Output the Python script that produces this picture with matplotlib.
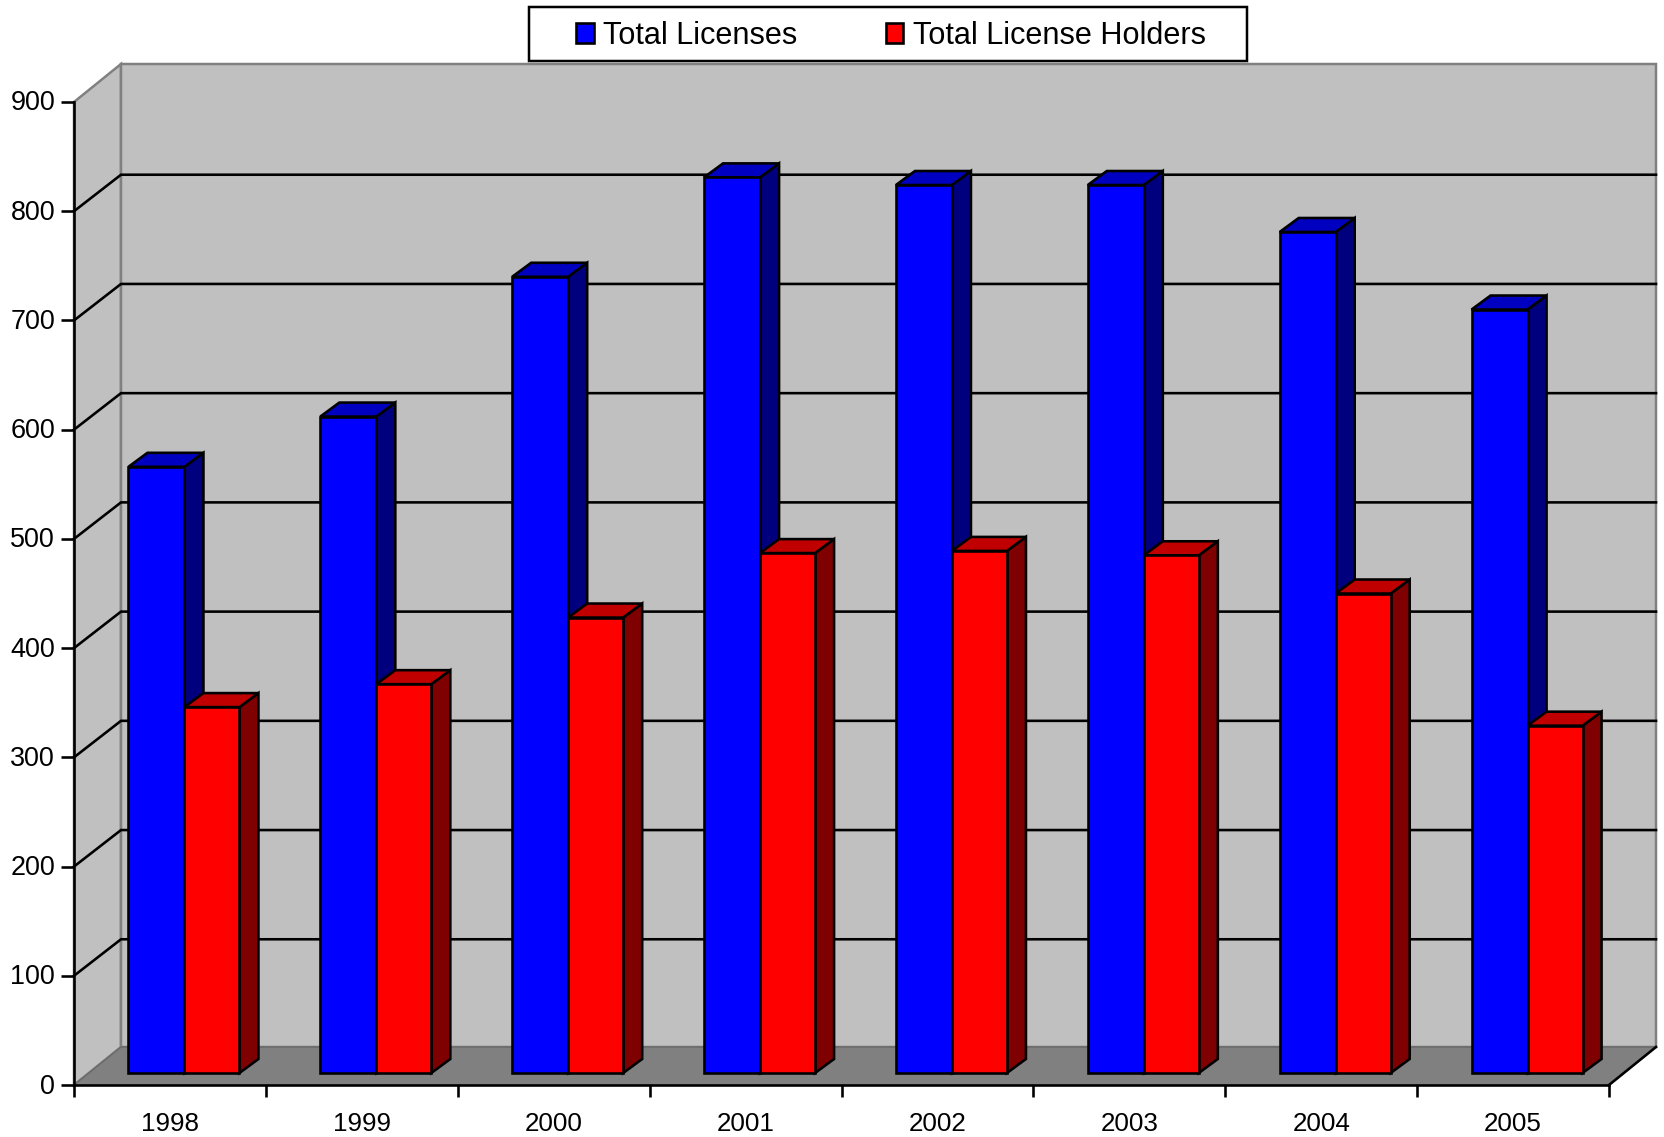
import matplotlib
matplotlib.use('Agg')
import matplotlib.pyplot as plt
from matplotlib.patches import Rectangle
from matplotlib.transforms import ScaledTranslation

plt.rcParams['font.family'] = ['Liberation Sans', 'DejaVu Sans']

years = ['1998', '1999', '2000', '2001', '2002', '2003', '2004', '2005']
total_licenses = [555, 601, 729, 820, 813, 813, 770, 699]
total_holders = [335, 356, 417, 476, 478, 474, 439, 318]
y_ticks = [0, 100, 200, 300, 400, 500, 600, 700, 800, 900]

W, H = 1664, 1137
X0, X1, Y0, Y1 = 74, 1609, 1085, 102
GREY = '#808080'
WALL = '#C0C0C0'
PX = 0.72  # pixels to points at dpi 100
LINE = 2.6 * PX

n = len(years)
x_per_px = n / (X1 - X0)
y_per_px = 900 / (Y0 - Y1)

# depth of the fake 3d box, in data units
wall_dx, wall_dy = 47 * x_per_px, 38 * y_per_px
grid_dy = 36.5 * y_per_px
base_dx, base_dy = 14.5 * x_per_px, 12 * y_per_px
bar_dx, bar_dy = 19 * x_per_px, 14 * y_per_px
blue_w = 56 * x_per_px
red_w = 55 * x_per_px


def draw_walls(ax):
    lw = 2.5 * PX
    ax.fill([0, wall_dx, wall_dx, 0], [0, wall_dy, 900 + wall_dy, 900],
            fc=WALL, ec=GREY, lw=lw, clip_on=False, zorder=1)
    ax.fill([wall_dx, n + wall_dx, n + wall_dx, wall_dx],
            [wall_dy, wall_dy, 900 + wall_dy, 900 + wall_dy],
            fc=WALL, ec=GREY, lw=lw, clip_on=False, zorder=1)
    ax.fill([0, n, n + wall_dx, wall_dx], [0, 0, wall_dy, wall_dy],
            fc=GREY, ec='#6a6a6a', lw=1.5 * PX, clip_on=False, zorder=1.5)
    ax.plot([n, n + wall_dx], [0, wall_dy], color='black', lw=LINE,
            clip_on=False, zorder=2)


def draw_grid(ax):
    for v in y_ticks[1:-1]:
        ax.plot([0, wall_dx, n + wall_dx], [v, v + grid_dy, v + grid_dy],
                color='black', lw=LINE, clip_on=False, zorder=2,
                solid_joinstyle='miter')


def draw_bar(ax, left, width, value, front, top, side, z):
    x0 = left + base_dx
    x1 = x0 + width
    y0 = base_dy
    y1 = y0 + value
    edge = dict(ec='black', lw=LINE, clip_on=False, joinstyle='miter')
    ax.fill([x1, x1 + bar_dx, x1 + bar_dx, x1],
            [y0, y0 + bar_dy, y1 + bar_dy, y1], fc=side, zorder=z, **edge)
    ax.fill([x0, x1, x1 + bar_dx, x0 + bar_dx],
            [y1, y1, y1 + bar_dy, y1 + bar_dy], fc=top, zorder=z, **edge)
    ax.bar(x0, value, width, bottom=y0, align='edge', color=front,
           edgecolor='black', linewidth=LINE, clip_on=False, zorder=z + 0.1)


fig = plt.figure(figsize=(W / 100, H / 100), dpi=100, facecolor='white')
ax = fig.add_axes([X0 / W, 1 - Y0 / H, (X1 - X0) / W, (Y0 - Y1) / H])
ax.set_xlim(0, n)
ax.set_ylim(0, 900)
ax.patch.set_visible(False)

draw_walls(ax)
draw_grid(ax)

for i in range(n):
    z = 3 + i
    draw_bar(ax, i + 0.5 - blue_w, blue_w, total_licenses[i], '#0000FF', '#0000C0', '#00007F', z)
    draw_bar(ax, i + 0.5, red_w, total_holders[i], '#FF0000', '#C00000', '#7F0000', z + 0.5)

for s in ['top', 'right']:
    ax.spines[s].set_visible(False)
for s in ['left', 'bottom']:
    ax.spines[s].set_linewidth(LINE)
    ax.spines[s].set_zorder(20)

ax.set_yticks(y_ticks)
ax.tick_params(axis='y', length=13 * PX, width=LINE, pad=6 * PX, labelsize=27 * PX)
ax.set_xticks(range(n + 1))
ax.set_xticklabels([])
ax.set_xticks([i + 0.5 for i in range(n)], labels=years, minor=True)
ax.tick_params(axis='x', which='major', length=12 * PX, width=LINE)
ax.tick_params(axis='x', which='minor', length=0, pad=27 * PX, labelsize=26 * PX)

# y labels sit a little above their ticks in the original
nudge = ScaledTranslation(0, 1.5 / 100, fig.dpi_scale_trans)
for label in ax.get_yticklabels():
    label.set_transform(label.get_transform() + nudge)

# legend box is sized by hand, the text sits inside it
fig.add_artist(Rectangle((529 / W, 1 - 61 / H), 718 / W, 54 / H, transform=fig.transFigure,
                         fc='white', ec='black', lw=2.5 * PX))
handles = [Rectangle((0, 0), 1, 1, fc='#0000FF', ec='black', lw=LINE),
           Rectangle((0, 0), 1, 1, fc='#FF0000', ec='black', lw=LINE)]
fig.legend(handles, ['Total Licenses', 'Total License Holders'], ncols=2,
           loc='center', bbox_to_anchor=(891 / W, 1 - 36 / H), frameon=False,
           fontsize=30.7 * PX, handlelength=0.58, handleheight=0.62,
           handletextpad=0.3, columnspacing=2.87, borderpad=0)

fig.savefig('out.png', dpi=100)
